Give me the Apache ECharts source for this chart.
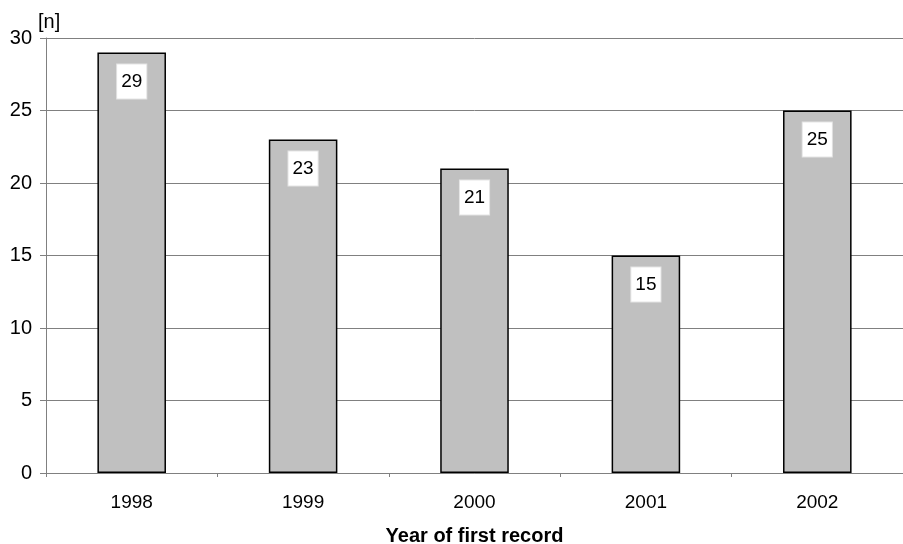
<!DOCTYPE html>
<html><head><meta charset="utf-8">
<script src="https://cdn.jsdelivr.net/npm/echarts@6/dist/echarts.min.js"></script>
<style>html,body{margin:0;padding:0;background:#fff}#c{width:903px;height:544px}</style>
</head><body><div id="c"></div>
<script>
const categories = ['1998','1999','2000','2001','2002'];
const values = [29, 23, 21, 15, 25];
const yTicks = [0, 5, 10, 15, 20, 25, 30];

const chart = echarts.init(document.getElementById('c'));
chart.setOption({
  animation: false,
  backgroundColor: '#fff',
  grid: { left: 46, right: 0, top: 38, bottom: 71, outerBoundsMode: 'none', containLabel: false },
  xAxis: {
    type: 'category', data: categories,
    name: 'Year of first record', nameLocation: 'middle', nameGap: 53,
    nameTextStyle: { fontFamily: 'Liberation Sans', fontWeight: 'bold', fontSize: 20, color: '#000' },
    axisLine: { lineStyle: { color: '#808080', width: 1 } },
    axisTick: { show: true, length: 4, lineStyle: { color: '#808080' } },
    axisLabel: { fontFamily: 'Liberation Sans', fontSize: 19, color: '#000', margin: 20 }
  },
  yAxis: {
    type: 'value', min: yTicks[0], max: yTicks[yTicks.length - 1], interval: 5,
    name: '[n]', nameLocation: 'end', nameGap: 6,
    nameTextStyle: { fontFamily: 'Liberation Sans', fontSize: 20, color: '#000', align: 'left', padding: [0, 0, 0, -8] },
    axisLine: { show: true, lineStyle: { color: '#808080' } },
    axisTick: { show: true, length: 6, lineStyle: { color: '#808080' } },
    axisLabel: { fontFamily: 'Liberation Sans', fontSize: 20, color: '#000', margin: 14 },
    splitLine: { lineStyle: { color: '#808080', width: 1 } }
  },
  series: [{
    type: 'bar', data: values, barWidth: '40%',
    itemStyle: { color: '#c0c0c0', borderColor: '#000', borderWidth: 1.5 },
    label: {
      show: true, position: 'insideTop', distance: 12,
      backgroundColor: '#fff', borderColor: '#e4e4e4', borderWidth: 1,
      padding: [6, 4, 6, 4], lineHeight: 22,
      fontFamily: 'Liberation Sans', fontSize: 19, color: '#000'
    }
  }]
});
</script></body></html>
